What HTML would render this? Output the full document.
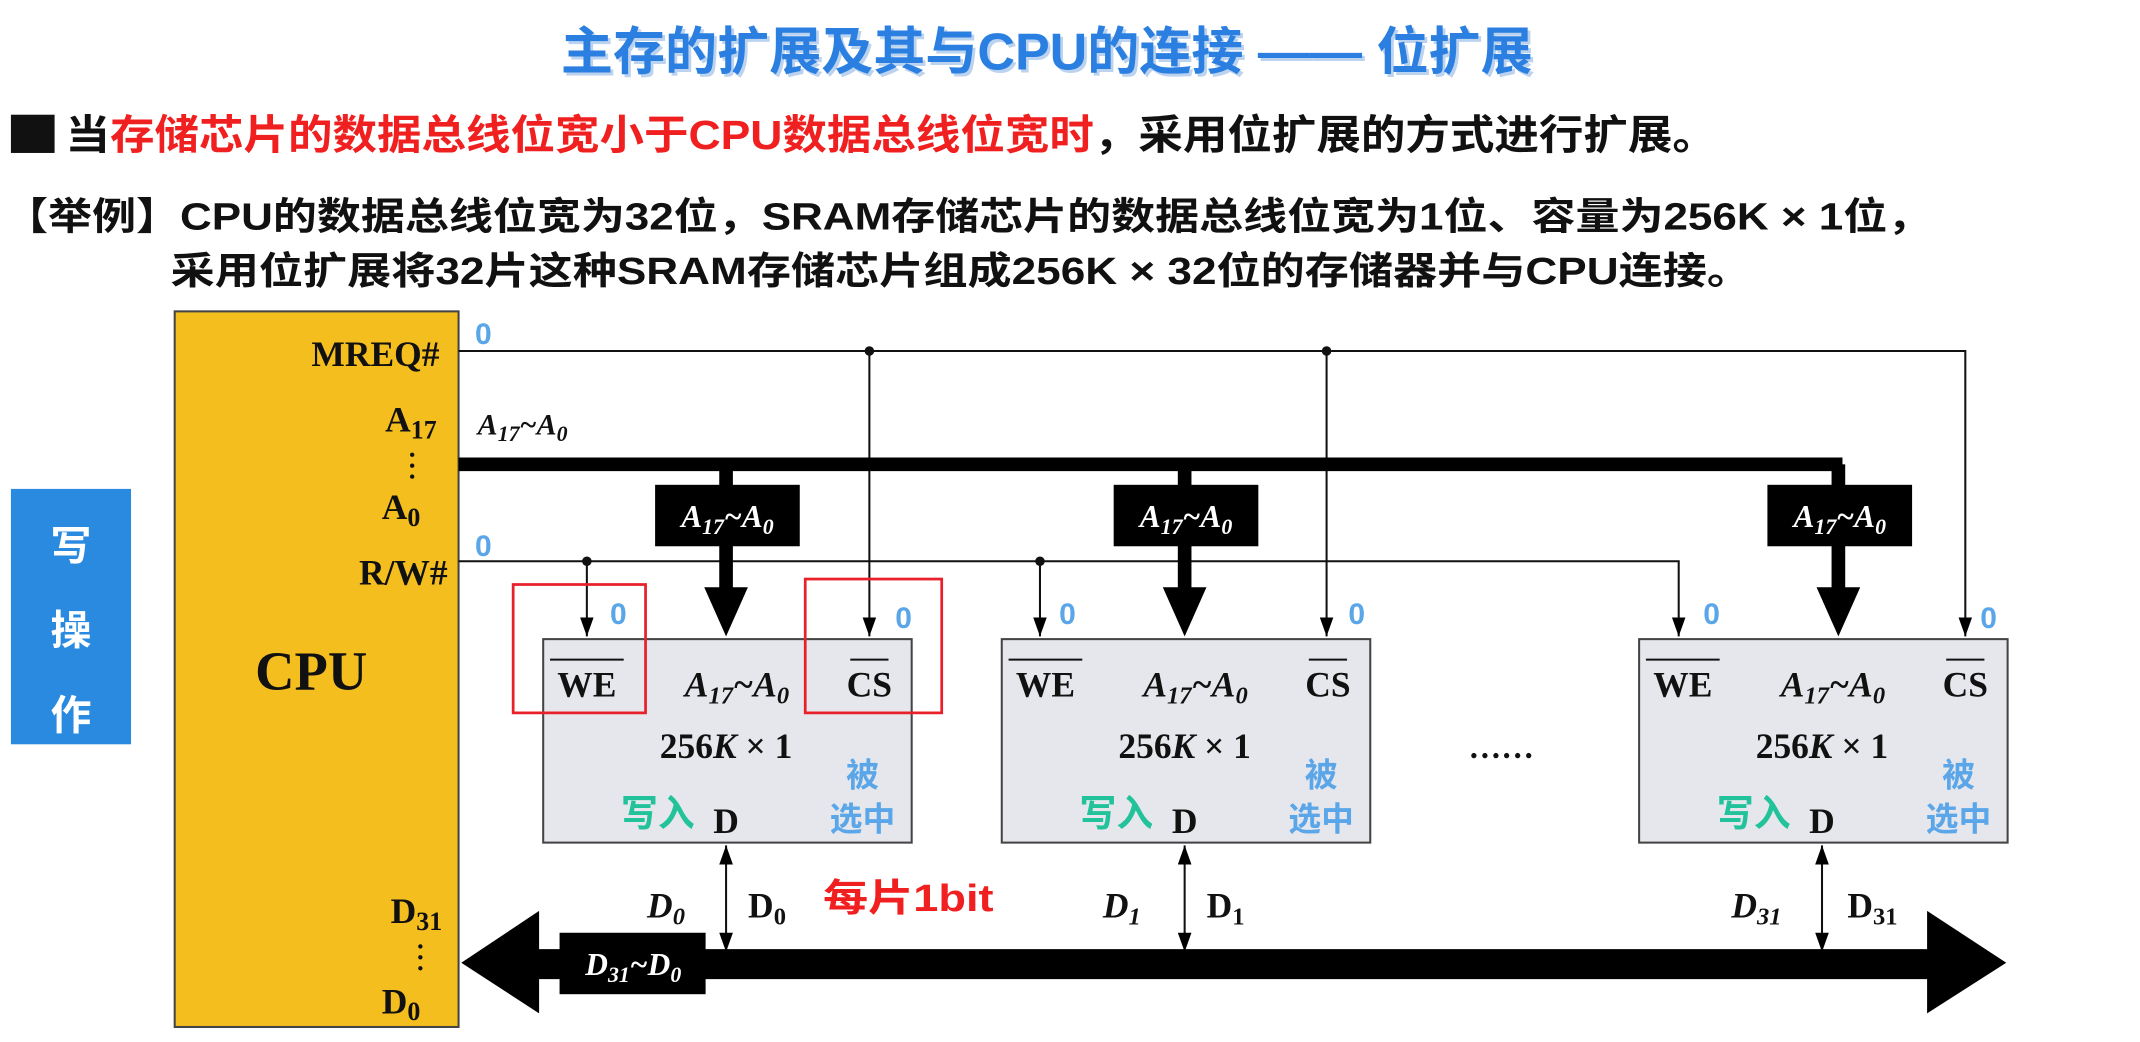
<!DOCTYPE html>
<html><head><meta charset="utf-8"><style>
html,body{margin:0;padding:0;background:#fff;}
svg{display:block;}
.cj{font-family:"Liberation Sans","Noto Sans CJK SC",sans-serif;font-weight:bold;}
.sf{font-family:"Liberation Serif","Noto Serif CJK SC",serif;font-weight:bold;}
.it{font-family:"Liberation Serif",serif;font-weight:bold;font-style:italic;}
.bl{fill:#5aa6e8;font-family:"Liberation Sans",sans-serif;font-weight:bold;}
</style></head><body>
<svg width="2140" height="1042" viewBox="0 0 1568 763" preserveAspectRatio="none" xmlns="http://www.w3.org/2000/svg">
<defs>
<marker id="ah" markerWidth="14" markerHeight="10" refX="14" refY="5" orient="auto-start-reverse" markerUnits="userSpaceOnUse"><path d="M0,0 L14,5 L0,10 Z" fill="#000"/></marker>
</defs>
<text x="767" y="51" text-anchor="middle" class="cj" font-size="38" fill="#bcd3f0" transform="translate(2,2)" textLength="712" lengthAdjust="spacingAndGlyphs">主存的扩展及其与CPU的连接 —— 位扩展</text>
<text x="767" y="51" text-anchor="middle" class="cj" font-size="38" fill="#2a7fe0" textLength="712" lengthAdjust="spacingAndGlyphs">主存的扩展及其与CPU的连接 —— 位扩展</text>
<rect x="8" y="84" width="32" height="28" fill="#111"/>
<text x="48" y="109" class="cj" font-size="30" textLength="1210" lengthAdjust="spacingAndGlyphs"><tspan fill="#111">当</tspan><tspan fill="#f02020">存储芯片的数据总线位宽小于CPU数据总线位宽时</tspan><tspan fill="#111">，采用位扩展的方式进行扩展。</tspan></text>
<text x="3" y="168" class="cj" font-size="28" fill="#111" textLength="1412" lengthAdjust="spacingAndGlyphs">【举例】CPU的数据总线位宽为32位，SRAM存储芯片的数据总线位宽为1位、容量为256K × 1位，</text>
<text x="125" y="208" class="cj" font-size="28" fill="#111" textLength="1158" lengthAdjust="spacingAndGlyphs">采用位扩展将32片这种SRAM存储芯片组成256K × 32位的存储器并与CPU连接。</text>
<!-- side box -->
<rect x="8" y="358" width="88" height="187" fill="#2a8ae0"/>
<text x="52" y="410" text-anchor="middle" class="cj" font-size="30" fill="#fff">写</text>
<text x="52" y="472" text-anchor="middle" class="cj" font-size="30" fill="#fff">操</text>
<text x="52" y="534" text-anchor="middle" class="cj" font-size="30" fill="#fff">作</text>
<!-- CPU -->
<rect x="128" y="228" width="208" height="524" fill="#f5be1f" stroke="#444" stroke-width="1.5"/>
<text x="228" y="505" text-anchor="middle" class="sf" font-size="40" fill="#111">CPU</text>
<g class="sf" font-size="26" fill="#111" text-anchor="end">
<text x="322" y="268">MREQ#</text>
<text x="320" y="316">A<tspan font-size="19" dy="5">17</tspan></text>
<text x="308" y="380">A<tspan font-size="19" dy="5">0</tspan></text>
<text x="328" y="428">R/W#</text>
<text x="324" y="676">D<tspan font-size="19" dy="5">31</tspan></text>
<text x="308" y="742">D<tspan font-size="19" dy="5">0</tspan></text>
</g>
<g fill="#111"><circle cx="302" cy="333" r="1.6"/><circle cx="302" cy="341" r="1.6"/><circle cx="302" cy="349" r="1.6"/>
<circle cx="308" cy="693" r="1.6"/><circle cx="308" cy="701" r="1.6"/><circle cx="308" cy="709" r="1.6"/></g>
<text x="348" y="252" class="bl" font-size="22">0</text>
<text x="348" y="407" class="bl" font-size="22">0</text>
<text x="350" y="318" class="it" font-size="22" fill="#111">A<tspan font-size="16" dy="5">17</tspan><tspan dy="-5">~A</tspan><tspan font-size="16" dy="5">0</tspan></text>
<g stroke="#111" stroke-width="1.5" fill="none">
<path d="M336,257 H1440 V466" marker-end="url(#ah)"/>
<path d="M637,257 V466" marker-end="url(#ah)"/>
<path d="M972,257 V466" marker-end="url(#ah)"/>
<path d="M336,411 H1230 V466" marker-end="url(#ah)"/>
<path d="M430,411 V466" marker-end="url(#ah)"/>
<path d="M762,411 V466" marker-end="url(#ah)"/>
</g>
<g fill="#111"><circle cx="637" cy="257" r="3.5"/><circle cx="972" cy="257" r="3.5"/><circle cx="430" cy="411" r="3.5"/><circle cx="762" cy="411" r="3.5"/></g>
<path d="M336,340 H1350" stroke="#000" stroke-width="10"/>
<g id="drop">
<rect x="527" y="340" width="10" height="95" fill="#000"/>
<path d="M516,430 L548,430 L532,466 Z" fill="#000"/>
<rect x="480" y="355" width="106" height="45" fill="#000"/>
<text x="533" y="386" text-anchor="middle" class="it" font-size="23" fill="#fff">A<tspan font-size="16" dy="5">17</tspan><tspan dy="-5">~A</tspan><tspan font-size="16" dy="5">0</tspan></text>
</g>
<use href="#drop" x="336"/>
<use href="#drop" x="815"/>
<g id="chip">
<rect x="398" y="468" width="270" height="149" fill="#e6e7ec" stroke="#444" stroke-width="1.5"/>
<text x="430" y="510" text-anchor="middle" class="sf" font-size="26" fill="#111">WE</text>
<line x1="403" y1="483" x2="457" y2="483" stroke="#111" stroke-width="1.5"/>
<text x="540" y="510" text-anchor="middle" class="it" font-size="26" fill="#111">A<tspan font-size="18" dy="5">17</tspan><tspan dy="-5">~A</tspan><tspan font-size="18" dy="5">0</tspan></text>
<text x="637" y="510" text-anchor="middle" class="sf" font-size="26" fill="#111">CS</text>
<line x1="623" y1="483" x2="651" y2="483" stroke="#111" stroke-width="1.5"/>
<text x="532" y="555" text-anchor="middle" class="sf" font-size="26" fill="#111">256<tspan font-style="italic">K</tspan> × 1</text>
<text x="482" y="605" text-anchor="middle" class="cj" font-size="27" fill="#22c29a">写入</text>
<text x="532" y="610" text-anchor="middle" class="sf" font-size="26" fill="#111">D</text>
<text x="632" y="576" text-anchor="middle" class="cj" font-size="24" fill="#5aa6e8">被</text>
<text x="632" y="608" text-anchor="middle" class="cj" font-size="24" fill="#5aa6e8">选中</text>
<path d="M532,619 V697" stroke="#111" stroke-width="1.5" marker-start="url(#ah)" marker-end="url(#ah)"/>
</g>
<use href="#chip" x="336"/>
<use href="#chip" x="803"/>
<g class="bl" font-size="22">
<text x="447" y="457">0</text><text x="656" y="460">0</text><text x="776" y="457">0</text><text x="988" y="457">0</text><text x="1248" y="457">0</text><text x="1451" y="460">0</text>
</g>
<text x="1100" y="555" text-anchor="middle" class="sf" font-size="24" fill="#111">……</text>
<g stroke="#e8202a" stroke-width="2" fill="none">
<rect x="376" y="428" width="97" height="94"/><rect x="590" y="424" width="100" height="98"/>
</g>
<g font-size="26" fill="#111">
<text x="488" y="672" text-anchor="middle" class="it">D<tspan font-size="18" dy="5">0</tspan></text>
<text x="562" y="672" text-anchor="middle" class="sf">D<tspan font-size="18" dy="5">0</tspan></text>
<text x="822" y="672" text-anchor="middle" class="it">D<tspan font-size="18" dy="5">1</tspan></text>
<text x="898" y="672" text-anchor="middle" class="sf">D<tspan font-size="18" dy="5">1</tspan></text>
<text x="1287" y="672" text-anchor="middle" class="it">D<tspan font-size="18" dy="5">31</tspan></text>
<text x="1372" y="672" text-anchor="middle" class="sf">D<tspan font-size="18" dy="5">31</tspan></text>
</g>
<text x="603" y="667" class="cj" font-size="28" fill="#f02020" textLength="125" lengthAdjust="spacingAndGlyphs">每片1bit</text>
<path d="M338,705 L395,667 L395,695 L1412,695 L1412,667 L1470,705 L1412,742 L1412,717 L395,717 L395,742 Z" fill="#000"/>
<rect x="410" y="683" width="107" height="45" fill="#000"/>
<text x="464" y="714" text-anchor="middle" class="it" font-size="23" fill="#fff">D<tspan font-size="16" dy="5">31</tspan><tspan dy="-5">~D</tspan><tspan font-size="16" dy="5">0</tspan></text>
</svg>
</body></html>
